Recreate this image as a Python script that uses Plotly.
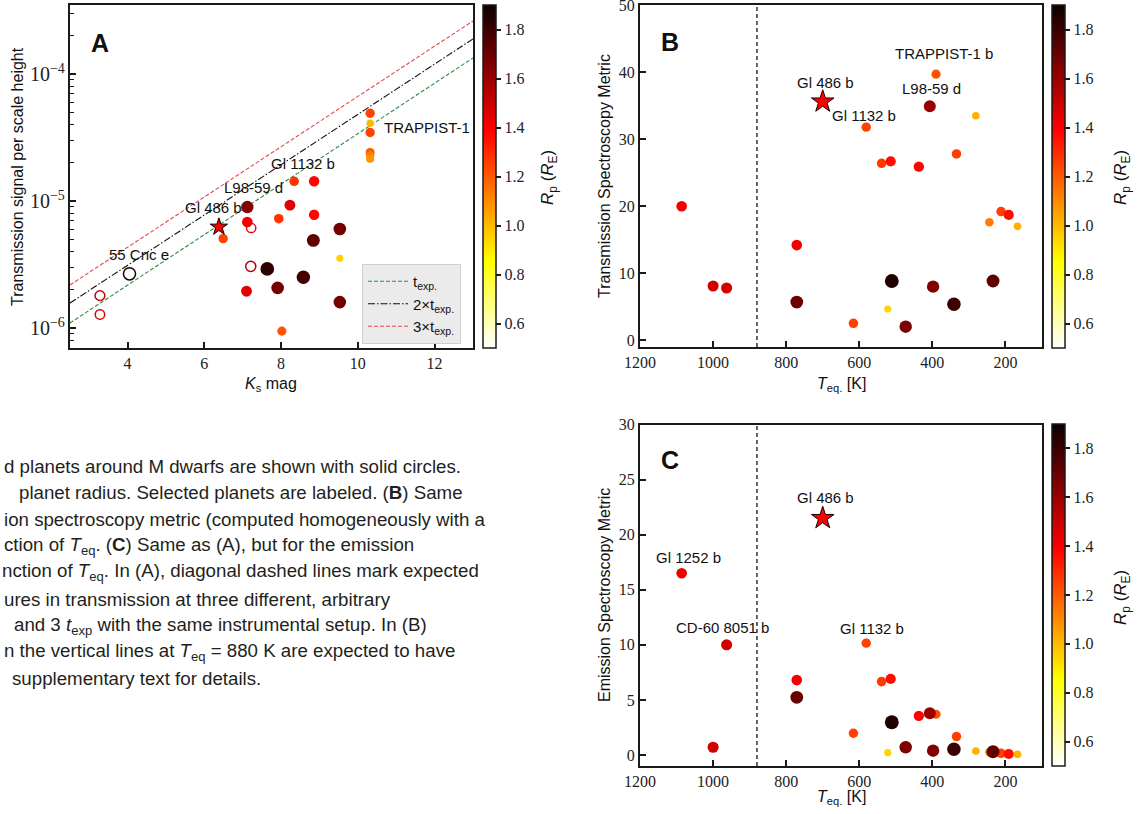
import math
import plotly.graph_objects as go

W, H = 1143, 814
SANS = "Liberation Sans, Arial, Helvetica, sans-serif"
SERIF = "Liberation Serif, Times New Roman, DejaVu Serif, serif"
INK = "#1a1a1a"

# ---------------- Panel A data ----------------
# planets around M dwarfs (solid circles)
ks_mdw = [6.49, 7.12, 7.12, 8.34, 8.86, 8.23, 7.94, 8.86, 9.53, 8.84, 9.53, 7.64, 8.58, 7.91,
          7.10, 9.53, 8.02, 10.32, 10.32, 10.32, 10.32, 10.32, 10.32]
sig_mdw = [5.06e-6, 8.97e-6, 6.84e-6, 1.43e-5, 1.43e-5, 9.28e-6, 7.26e-6, 7.8e-6, 6.03e-6, 4.9e-6,
           3.54e-6, 2.92e-6, 2.51e-6, 2.07e-6, 1.95e-6, 1.6e-6, 9.46e-7,
           4.91e-5, 4.1e-5, 3.46e-5, 2.41e-5, 2.28e-5, 2.15e-5]
rp_mdw = [1.25, 1.65, 1.42, 1.28, 1.38, 1.45, 1.28, 1.38, 1.68, 1.72, 0.95, 1.82, 1.78, 1.68,
          1.45, 1.68, 1.22, 1.25, 1.0, 1.25, 1.2, 1.12, 1.08]
# other planets (open circles)
ks_oth = [4.05, 3.28, 3.28, 7.22, 7.21]
sig_oth = [2.67e-6, 1.8e-6, 1.28e-6, 6.14e-6, 3.06e-6]
rp_oth = [1.86, 1.5, 1.45, 1.42, 1.55]
# Gl 486 b
ks_star, sig_star, rp_star = [6.38], [6.25e-6], [1.40]
# exposure-time lines
k_line = [2.5, 13.0]
line_1t = [1.096e-6, 1.337e-4]
line_2t = [1.574e-6, 1.888e-4]
line_3t = [2.183e-6, 2.612e-4]

# ---------------- Panels B / C data ----------------
teq = [1086, 1000, 963, 771, 771, 390, 407, 281, 581, 539, 514, 437, 334, 212, 191, 244, 167,
       511, 398, 234, 341, 522, 616, 473]
tsm = [20.0, 8.1, 7.8, 14.2, 5.7, 39.7, 34.9, 33.5, 31.8, 26.4, 26.7, 25.9, 27.8, 19.2, 18.7,
       17.6, 17.0, 8.84, 8.0, 8.84, 5.37, 4.67, 2.53, 2.03]
esm = [16.5, 0.7, 10.0, 6.8, 5.24, 3.7, 3.79, 0.36, 10.15, 6.66, 6.9, 3.55, 1.67, 0.15, 0.09,
       0.25, 0.06, 2.97, 0.39, 0.3, 0.52, 0.21, 1.97, 0.7]
rp = [1.42, 1.48, 1.48, 1.42, 1.70, 1.22, 1.60, 1.02, 1.25, 1.27, 1.36, 1.38, 1.26, 1.26, 1.36,
      1.13, 1.02, 1.85, 1.65, 1.72, 1.80, 0.95, 1.26, 1.66]
teq_star, tsm_star, esm_star = [700], [35.6], [21.5]
t_cut = 880

cb_ticks = [0.6, 0.8, 1.0, 1.2, 1.4, 1.6, 1.8]

caption_lines = [
    "d planets around M dwarfs are shown with solid circles.",
    "planet radius. Selected planets are labeled. (<b>B</b>) Same",
    "ion spectroscopy metric (computed homogeneously with a",
    "ction of <i>T</i><sub>eq</sub>. (<b>C</b>) Same as (A), but for the emission",
    "nction of <i>T</i><sub>eq</sub>. In (A), diagonal dashed lines mark expected",
    "ures in transmission at three different, arbitrary",
    "and 3 <i>t</i><sub>exp</sub> with the same instrumental setup. In (B)",
    "n the vertical lines at <i>T</i><sub>eq</sub> = 880 K are expected to have",
    "supplementary text for details.",
]
caption_x = [2, 17, 2, 2, 0, 2, 12, 2, 10]

# ------------------------------------------------
HOT_R = [[0.0, "rgb(255,255,255)"], [0.253968, "rgb(255,255,0)"],
         [0.634921, "rgb(255,0,0)"], [1.0, "rgb(11,0,0)"]]


def sz(vals, k=7.5):
    return [k * v for v in vals]


fig = go.Figure()

for name, yv, col, dash in [("t<sub>exp.</sub>", line_1t, "#2e8b47", "4px,2px"),
                            ("2×t<sub>exp.</sub>", line_2t, "#111111", "7px,2px,1.5px,2px"),
                            ("3×t<sub>exp.</sub>", line_3t, "#e8474b", "4px,2px")]:
    fig.add_trace(go.Scatter(x=k_line, y=yv, mode="lines", name=name,
                             line=dict(color=col, width=1.1, dash=dash),
                             xaxis="x", yaxis="y", hoverinfo="skip"))

fig.add_trace(go.Scatter(x=ks_mdw, y=sig_mdw, mode="markers", showlegend=False,
                         marker=dict(color=rp_mdw, coloraxis="coloraxis", size=sz(rp_mdw),
                                     opacity=1, line=dict(width=0)), xaxis="x", yaxis="y"))
fig.add_trace(go.Scatter(x=ks_oth, y=sig_oth, mode="markers", showlegend=False,
                         marker=dict(color=rp_oth, coloraxis="coloraxis", symbol="circle-open",
                                     size=sz(rp_oth, 6.5), opacity=1, line=dict(width=1.5)),
                         xaxis="x", yaxis="y"))
fig.add_trace(go.Scatter(x=ks_star, y=sig_star, mode="markers", showlegend=False,
                         marker=dict(color=rp_star, coloraxis="coloraxis", symbol="star", size=13,
                                     opacity=1, line=dict(color="black", width=1)),
                         xaxis="x", yaxis="y"))

for yv, ys, ax, ca in [(tsm, tsm_star, "2", "coloraxis2"), (esm, esm_star, "3", "coloraxis3")]:
    fig.add_trace(go.Scatter(x=teq, y=yv, mode="markers", showlegend=False,
                             marker=dict(color=rp, coloraxis=ca, size=sz(rp), opacity=1,
                                         line=dict(width=0)),
                             xaxis="x" + ax, yaxis="y" + ax))
    fig.add_trace(go.Scatter(x=teq_star, y=ys, mode="markers", showlegend=False,
                             marker=dict(color=rp_star, coloraxis=ca, symbol="star", size=17,
                                         opacity=1, line=dict(color="#200000", width=1)),
                             xaxis="x" + ax, yaxis="y" + ax))


def axis(**kw):
    d = dict(showline=True, linecolor=INK, linewidth=2, mirror=True, ticks="inside",
             ticklen=6, tickwidth=1.5, tickcolor=INK, showgrid=False, zeroline=False,
             automargin=False, ticklabeloverflow="allow",
             tickfont=dict(family=SERIF, size=16, color="#222"))
    d.update(kw)
    return d


def colorbar(x_px, top_px, bot_px):
    return dict(x=x_px / W, xanchor="left", y=1 - top_px / H, yanchor="top",
                len=(bot_px - top_px) / H, lenmode="fraction", thickness=13,
                thicknessmode="pixels", xpad=0, ypad=0, outlinewidth=1.5, outlinecolor=INK,
                ticks="outside", ticklen=5, tickwidth=1.5, tickcolor=INK,
                tickvals=cb_ticks, tickformat=".1f",
                tickfont=dict(family=SERIF, size=16, color="#222"))


fig.update_layout(
    template="none",
    width=W, height=H, margin=dict(l=0, r=0, t=0, b=0, autoexpand=False),
    paper_bgcolor="white", plot_bgcolor="white",
    xaxis=axis(domain=[70 / W, 473 / W], anchor="y", range=[2.5, 13],
               tickvals=[4, 6, 8, 10, 12]),
    yaxis=axis(domain=[1 - 348 / H, 1 - 5 / H], anchor="x", type="log",
               range=[-6.157, -3.457], dtick=1, exponentformat="power",
               minor=dict(ticks="inside", ticklen=3.5, tickwidth=1, tickcolor=INK,
                          dtick="D1", showgrid=False)),
    xaxis2=axis(domain=[640 / W, 1042 / W], anchor="y2", range=[1200, 100],
                tickvals=[1200, 1000, 800, 600, 400, 200]),
    yaxis2=axis(domain=[1 - 347 / H, 1 - 5 / H], anchor="x2", range=[-1, 50.02], dtick=10),
    xaxis3=axis(domain=[640 / W, 1042 / W], anchor="y3", range=[1200, 100],
                tickvals=[1200, 1000, 800, 600, 400, 200]),
    yaxis3=axis(domain=[1 - 766 / H, 1 - 424.5 / H], anchor="x3", range=[-1, 30], dtick=5),
    coloraxis=dict(colorscale=HOT_R, cmin=0.5, cmax=1.9, colorbar=colorbar(483, 5, 348)),
    coloraxis2=dict(colorscale=HOT_R, cmin=0.5, cmax=1.9, colorbar=colorbar(1052, 5, 348)),
    coloraxis3=dict(colorscale=HOT_R, cmin=0.5, cmax=1.9, colorbar=colorbar(1052, 424, 766)),
    showlegend=True,
    legend=dict(x=362 / W, y=1 - 264 / H, xanchor="left", yanchor="top",
                bgcolor="rgba(234,234,234,0.95)", bordercolor="#d0d0d0", borderwidth=1,
                font=dict(family=SANS, size=15, color="#111"), itemwidth=40,
                tracegroupgap=0),
    shapes=[dict(type="line", xref=xr, yref=yr + " domain", x0=t_cut, x1=t_cut, y0=0, y1=1,
                 line=dict(color="#333", width=1.5, dash="4px,3px"))
            for xr, yr in [("x2", "y2"), ("x3", "y3")]],
)

ann = []
lab_font = dict(family=SANS, size=15, color="#111")


def lab(text, x, y, xr, yr, xs, ys, anchor="center"):
    ann.append(dict(text=text, x=x, y=y, xref=xr, yref=yr, xshift=xs, yshift=ys,
                    showarrow=False, font=lab_font, xanchor=anchor))


# panel A labels (log axis -> log10 coordinates)
lab("55 Cnc e", ks_oth[0], math.log10(sig_oth[0]), "x", "y", 10, 19)
lab("Gl 486 b", ks_star[0], math.log10(sig_star[0]), "x", "y", -5, 19)
lab("L98-59 d", ks_mdw[1], math.log10(sig_mdw[1]), "x", "y", 6, 20)
lab("Gl 1132 b", ks_mdw[3], math.log10(sig_mdw[3]), "x", "y", 9, 18)
lab("TRAPPIST-1", ks_mdw[18], math.log10(sig_mdw[18]), "x", "y", 12, -4, "left")
# panel B labels
lab("Gl 486 b", teq_star[0], tsm_star[0], "x2", "y2", 3, 19)
lab("Gl 1132 b", teq[8], tsm[8], "x2", "y2", -2, 12)
lab("L98-59 d", teq[6], tsm[6], "x2", "y2", 2, 18)
lab("TRAPPIST-1 b", teq[5], tsm[5], "x2", "y2", 8, 21)
# panel C labels
lab("Gl 486 b", teq_star[0], esm_star[0], "x3", "y3", 3, 21)
lab("Gl 1252 b", teq[0], esm[0], "x3", "y3", 7, 16)
lab("CD-60 8051 b", teq[2], esm[2], "x3", "y3", -4, 17)
lab("Gl 1132 b", teq[8], esm[8], "x3", "y3", 6, 15)


def paper_text(text, xp, yp, size=16, angle=0, anchor="center", family=SANS):
    ann.append(dict(text=text, x=xp / W, y=1 - yp / H, xref="paper", yref="paper",
                    showarrow=False, textangle=angle, xanchor=anchor, yanchor="middle",
                    font=dict(family=family, size=size, color="#111")))


# panel letters
paper_text("<b>A</b>", 100, 43, size=25)
paper_text("<b>B</b>", 670, 42, size=25)
paper_text("<b>C</b>", 670, 460, size=25)
# axis titles
paper_text("<i>K</i><sub>s</sub> mag", 271, 384)
paper_text("Transmission signal per scale height", 18, 177, angle=-90)
paper_text("<i>T</i><sub>eq.</sub> [K]", 841, 384)
paper_text("Transmission Spectroscopy Metric", 604, 176, angle=-90)
paper_text("<i>T</i><sub>eq.</sub> [K]", 841, 797)
paper_text("Emission Spectroscopy Metric", 604, 595, angle=-90)
# colorbar titles
cb_title = "<i>R</i><sub>p</sub> (<i>R</i><sub>E</sub>)"
paper_text(cb_title, 549, 178, size=17, angle=-90)
paper_text(cb_title, 1122, 178, size=17, angle=-90)
paper_text(cb_title, 1122, 598, size=17, angle=-90)
# caption
for i, (t, xp) in enumerate(zip(caption_lines, caption_x)):
    ann.append(dict(text=t, x=xp / W, y=1 - (466 + 26.6 * i) / H, xref="paper", yref="paper",
                    showarrow=False, xanchor="left", yanchor="middle",
                    font=dict(family=SANS, size=18.7, color="#231f20")))

fig.update_layout(annotations=ann)
fig.write_html("out.html", config={"displayModeBar": False},
               post_script="document.body.style.margin='0px';"
                           "document.body.style.overflow='hidden';")
